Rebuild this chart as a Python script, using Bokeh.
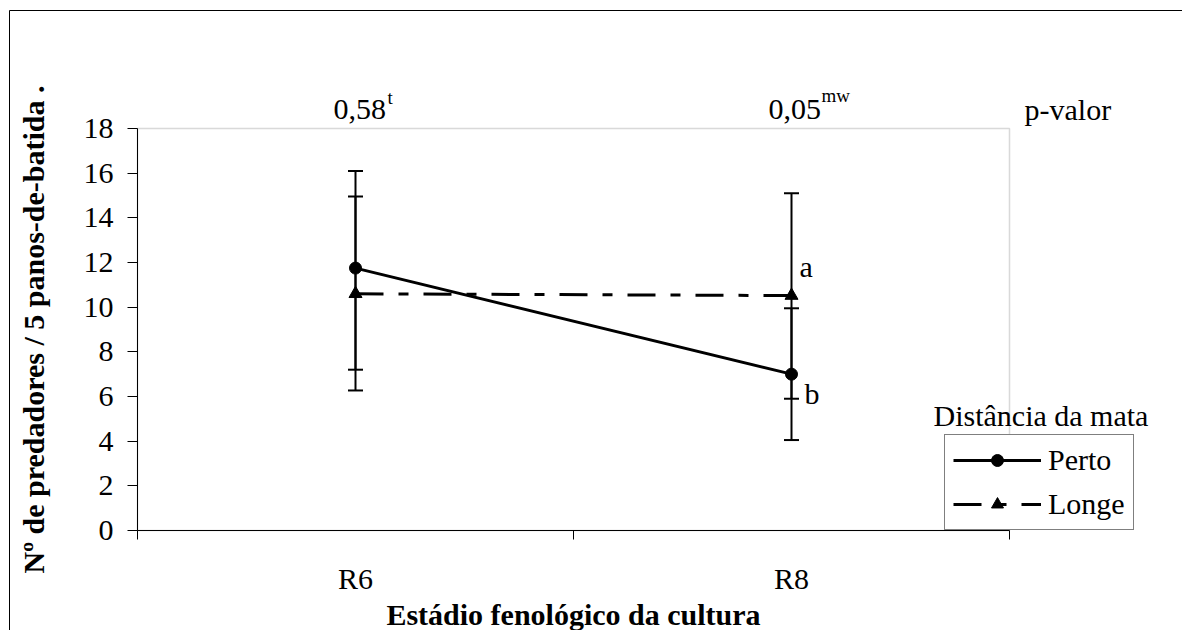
from bokeh.plotting import figure
from bokeh.models import (Range1d, FixedTicker, ColumnDataSource, Whisker, TeeHead,
                          Legend, LegendItem, Label, BoxAnnotation, Arrow)
from bokeh.embed import file_html
from bokeh.resources import INLINE

# ---- data ----
stages = ["R6", "R8"]
stage_pos = [0.5, 1.5]
perto_mean = [11.75, 7.0]
perto_low = [7.2, 4.05]
perto_high = [16.1, 9.95]
longe_mean = [10.6, 10.52]
longe_low = [6.27, 5.9]
longe_high = [14.95, 15.1]
p_values = ["0,58", "0,05"]
p_tests = ["t", "mw"]
letters_r8 = ["a", "b"]
y_ticks = list(range(0, 19, 2))

FONT = "Liberation Serif"

# ---- layout (page pixels) ----
W, H = 1182, 630
X0_PX, X2_PX = 137, 1009     # pixel of x=0 and x=2
Y0_PX, Y18_PX = 530, 128     # pixel of y=0 and y=18
sx = (X2_PX - X0_PX) / 2.0
sy = (Y0_PX - Y18_PX) / 18.0

def dx(px):
    return (px - X0_PX) / sx

def dy(py):
    return (Y0_PX - py) / sy

p = figure(width=W, height=H, output_backend="svg", toolbar_location=None,
           x_range=Range1d(dx(0), dx(W)), y_range=Range1d(dy(H), dy(0)),
           min_border=0, min_border_left=0, min_border_right=0,
           min_border_top=0, min_border_bottom=0)
p.background_fill_color = "white"
p.border_fill_color = "white"
p.outline_line_color = None
p.grid.visible = False

# outer chart border: only its top and left edges are inside the window
p.add_layout(Arrow(x_start=dx(9), y_start=dy(10), x_end=dx(W + 50), y_end=dy(10),
                   start=None, end=None, line_color="black", line_width=1, level="underlay"))
p.add_layout(Arrow(x_start=dx(9), y_start=dy(10), x_end=dx(9), y_end=dy(H + 50),
                   start=None, end=None, line_color="black", line_width=1, level="underlay"))
# plot area border (gray)
p.add_layout(BoxAnnotation(left=0, right=2, bottom=0, top=18, fill_alpha=0,
                           line_color="#808080", line_width=1.5, level="underlay"))

# x axis
xa = p.xaxis[0]
xa.fixed_location = 0
xa.bounds = (0, 2)
xa.ticker = FixedTicker(ticks=stage_pos, minor_ticks=[0, 1, 2])
xa.major_label_overrides = {pos: s for pos, s in zip(stage_pos, stages)}
xa.major_tick_out = 0
xa.major_tick_in = 0
xa.minor_tick_out = 9
xa.minor_tick_in = 0
xa.minor_tick_line_color = "black"
xa.major_label_standoff = 22

# y axis
ya = p.yaxis[0]
ya.fixed_location = 0
ya.bounds = (0, 18)
ya.ticker = FixedTicker(ticks=y_ticks)
ya.major_tick_out = 10
ya.major_tick_in = 0
ya.minor_tick_line_color = None
ya.major_label_standoff = 14
ya.axis_label = "Nº de predadores / 5 panos-de-batida ."
ya.axis_label_standoff = 31

for ax in (xa, ya):
    ax.axis_line_color = "black"
    ax.axis_line_width = 1
    ax.major_tick_line_color = "black"
    ax.major_label_text_font = FONT
    ax.major_label_text_font_size = "30px"
    ax.major_label_text_color = "black"
    ax.axis_label_text_font = FONT
    ax.axis_label_text_font_size = "30px"
    ax.axis_label_text_font_style = "bold"
    ax.axis_label_text_color = "black"

# error bars
src_p = ColumnDataSource(dict(x=stage_pos, y=perto_mean, lo=perto_low, hi=perto_high))
src_l = ColumnDataSource(dict(x=stage_pos, y=longe_mean, lo=longe_low, hi=longe_high))
for src in (src_p, src_l):
    w = Whisker(source=src, base="x", lower="lo", upper="hi",
                line_color="black", line_width=2,
                upper_head=TeeHead(size=15, line_color="black", line_width=2),
                lower_head=TeeHead(size=15, line_color="black", line_width=2))
    p.add_layout(w)

# series
lp = p.line(stage_pos, perto_mean, line_color="black", line_width=3)
mp = p.scatter(stage_pos, perto_mean, marker="circle", size=12, color="black")
ll = p.line(stage_pos, longe_mean, line_color="black", line_width=3, line_dash="28 15 10 15")
ml = p.scatter(stage_pos, longe_mean, marker="triangle", size=13, color="black")

legend = Legend(items=[LegendItem(label="Perto", renderers=[lp, mp]),
                       LegendItem(label="Longe", renderers=[ll, ml])],
                location=(944, H - 530), orientation="vertical",
                label_text_font=FONT, label_text_font_size="30px",
                label_text_color="black",
                glyph_width=88, glyph_height=30, label_height=30,
                label_standoff=7, spacing=10, padding=8, margin=0,
                border_line_color="black", border_line_width=1,
                background_fill_color="white", background_fill_alpha=1.0)
p.add_layout(legend, "center")

# annotations (positions given in page pixels)
def lab(px, py, text, size="30px", style="normal", align="left"):
    p.add_layout(Label(x=dx(px), y=dy(py), text=text, text_font=FONT, text_font_size=size,
                       text_font_style=style, text_color="black", text_align=align,
                       text_baseline="alphabetic"))

lab(333, 109, p_values[0])
lab(387, 97, p_tests[0], size="19px")
lab(768, 109, p_values[1])
lab(821, 95, p_tests[1], size="19px")
lab(1024, 109, "p-valor")
lab(799, 266, letters_r8[0])
lab(804, 393, letters_r8[1])
lab(933, 415, "Distância da mata")
lab(573, 614, "Estádio fenológico da cultura", style="bold", align="center")

open("out.html", "w").write(file_html(p, INLINE))
